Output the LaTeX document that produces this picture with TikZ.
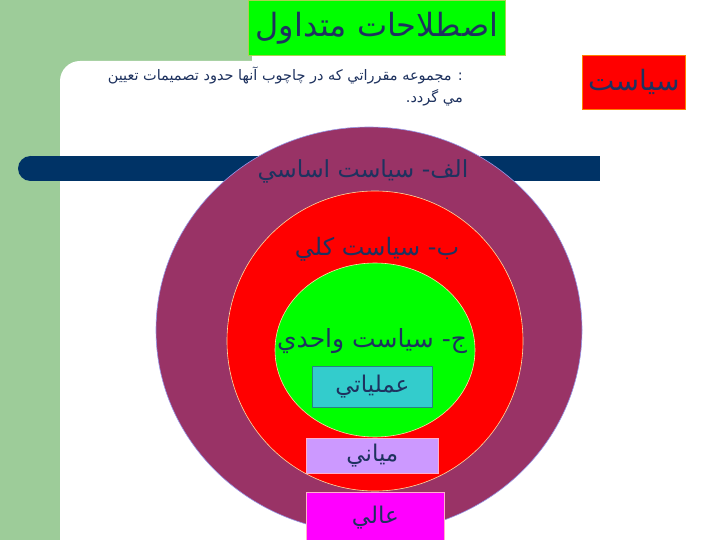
\documentclass[tikz,border=0pt]{standalone}
\usepackage{fontspec}
\usetikzlibrary{shapes.geometric}
\newfontfamily\arabicfont[Script=Arabic]{DejaVu Sans}
\TeXXeTstate=1
\definecolor{panelgreen}{RGB}{157,204,153}
\definecolor{barblue}{RGB}{0,51,102}
\definecolor{plum}{RGB}{153,51,102}
\definecolor{txt}{RGB}{30,50,95}
\definecolor{teal2}{RGB}{51,204,204}
\definecolor{tealb}{RGB}{40,130,130}
\definecolor{lav}{RGB}{204,153,255}
\definecolor{pinkb}{RGB}{255,175,205}
\definecolor{brightgreen}{RGB}{0,255,0}
\definecolor{brightred}{RGB}{255,0,0}
\definecolor{brightmag}{RGB}{255,0,255}
\begin{document}
\begin{tikzpicture}[x=1pt,y=-1pt,
  ring/.style={ellipse, inner sep=0pt, line width=0.6pt},
  lab/.style={text=txt, font=\arabicfont\fontsize{24}{28}\selectfont, inner sep=0pt},
  boxlab/.style={text=txt, font=\arabicfont\fontsize{23}{26}\selectfont, inner sep=0pt, line width=0.8pt}]
\useasboundingbox (0,0) rectangle (720,540);
\fill[white] (0,0) rectangle (720,540);
% background panels
\fill[panelgreen] (0,0) rectangle (252,90);
\fill[panelgreen] (0,0) rectangle (60,540);
\fill[white, rounded corners=20pt] (60,61) rectangle (760,580);
% bar
\fill[barblue] (30,156) rectangle (600,181);
\fill[barblue] (30.5,168.5) circle[radius=12.5pt];
% title
\node[draw={rgb,255:red,170;green,210;blue,80}, fill=brightgreen, line width=0.8pt, minimum width=257pt, minimum height=55pt, inner sep=0pt, anchor=north west] (title) at (248,0) {};
\node[text=txt, font=\arabicfont\fontsize{32}{36}\selectfont] (titletxt) at (title.center) {\beginR اصطلاحات متداول\endR};
% policy box
\node[draw=orange, fill=brightred, line width=0.6pt, minimum width=103pt, minimum height=54pt, inner sep=0pt, anchor=north west] (pol) at (582,55) {};
\node[text=txt, font=\arabicfont\fontsize{28}{32}\selectfont] (poltxt) at (pol.center) {\beginR سياست\endR};
% description
\node[text=txt, font=\arabicfont\fontsize{14.5}{22}\selectfont, align=right, anchor=north east, inner sep=0pt] (desc) at (463,67) {\beginR : مجموعه مقرراتي كه در چاچوب آنها حدود تصميمات تعيين\endR\\ \beginR مي گردد.\endR};
% rings
\node[ring, draw={rgb,255:red,150;green,150;blue,230}, fill=plum, minimum width=426pt, minimum height=406pt] (outer) at (369,330) {};
\node[ring, draw={rgb,255:red,255;green,220;blue,160}, fill=brightred, minimum width=296pt, minimum height=300pt] (mid) at (375,341) {};
\node[ring, draw={rgb,255:red,255;green,220;blue,160}, fill=brightgreen, minimum width=200pt, minimum height=174pt] (inner) at (375,350) {};
% labels
\node[lab, font=\arabicfont\fontsize{23.5}{28}\selectfont] (la) at (363,171) {\beginR الف- سياست اساسي\endR};
\node[lab] (lb) at (377,249) {\beginR ب- سياست كلي\endR};
\node[lab, font=\arabicfont\fontsize{25}{28}\selectfont] (lc) at (372,341) {\beginR ج- سياست واحدي\endR};
% boxes
\node[boxlab, draw=tealb, fill=teal2, minimum width=120pt, minimum height=41pt, anchor=north west] (op) at (312,366) {\beginR عملياتي\endR};
\node[boxlab, draw=pinkb, fill=lav, minimum width=132pt, minimum height=35pt, anchor=north west] (md) at (306,438) {\beginR مياني\endR};
\node[boxlab, draw=pinkb, fill=brightmag, minimum width=138pt, minimum height=50pt, anchor=north west] (hi) at (306,492) {\beginR عالي\endR};
\end{tikzpicture}
\end{document}
